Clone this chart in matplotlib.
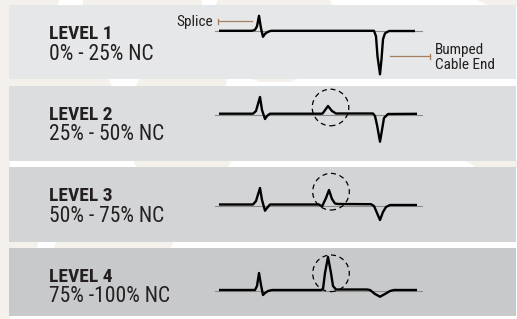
import matplotlib

matplotlib.use("Agg")
import matplotlib.pyplot as plt
from matplotlib import font_manager
from matplotlib.patches import Circle, Polygon


def pick_narrow():
    # look for a condensed / narrow sans face among the installed fonts
    found = []
    for f in font_manager.fontManager.ttflist:
        narrow = str(f.stretch) in ("condensed", "semi-condensed", "extra-condensed") or \
            any(k in f.name for k in ("Narrow", "Condensed"))
        if narrow and "Mono" not in f.name and "Serif" not in f.name:
            found.append(f)
    for pref in ("Liberation", "Roboto", "Open Sans", "Noto Sans", "DejaVu Sans"):
        for f in found:
            if f.name.startswith(pref):
                return f.name, f.stretch
    return None, None


NARROW, STRETCH = pick_narrow()
if NARROW:
    FAMILY = [NARROW, "DejaVu Sans"]
    SCALE = 1.0
else:
    FAMILY = ["Roboto", "DejaVu Sans"]
    SCALE = 0.9
    STRETCH = "normal"
plt.rcParams["font.family"] = FAMILY

W, H = 517, 319

# ---- data: TDR-like traces, distance (px from trace start) vs amplitude (px above baseline)
levels = ["LEVEL 1", "LEVEL 2", "LEVEL 3", "LEVEL 4"]
ranges = ["0% - 25% NC", "25% - 50% NC", "50% - 75% NC", "75% -100% NC"]

dist_1 = [0, 33, 36, 38, 40, 42, 44, 46, 49, 52, 155, 157, 158.5, 161, 162.5, 164, 166, 170, 196]
amp_1 = [0.5, 0.5, 1.5, 5, 15.5, 3, -5.5, -2.5, -0.5, 0.5, 0.5, -5, -25, -43, -28, -8, -2, 0.3, 0.3]

dist_2 = [0, 34, 37, 41, 43, 46, 48, 51, 103, 104, 109, 113, 117, 154, 156, 158, 161, 163, 165, 169, 198]
amp_2 = [1.3, 1.3, 4, 18, 5, -4, -1, 1.3, 1.3, 2, 9, 4, 1.5, 1.5, -1, -10, -26.7, -15, -3, 1, 1.2]

dist_3 = [0, 34, 37, 41, 43, 46, 48, 51, 100, 103, 107, 110, 113, 116, 119, 152, 155, 158, 161, 164, 167, 171, 198]
amp_3 = [1.5, 1.5, 5, 18, 6, -4.7, -2, 1.5, 1.5, -0.5, 8, 16, 7, 2.5, 2, 1.8, 0, -7, -14, -6, -1, 1, 1]

dist_4 = [0, 36, 38, 40, 42, 44, 46, 49, 53, 102, 104, 106, 109, 112, 114, 117, 148, 151, 156, 161, 166, 171, 175, 198]
amp_4 = [1, 1, 5, 18, 6, -4, -2, 0, 1, 1, 2, 18, 34, 18, 5, 1.5, 1.5, 1, -3, -5.7, -3, 0, 1, 1]

trace_dist = [dist_1, dist_2, dist_3, dist_4]
trace_amp = [amp_1, amp_2, amp_3, amp_4]

# dashed ring around the growing reflection (levels 2-4)
ring_dist = [None, 111.5, 112, 112]
ring_amp = [None, 7.5, 14.3, 17.7]
ring_r = 18.3

# ---- layout (pixels)
panel_top = [5, 86, 167, 248]
panel_bot = [79.3, 160.7, 241.7, 316]
panel_x0, panel_x1 = 9, 515.7
base_y = [31.3, 115, 206, 291]
trace_x0 = 219
panel_colors = ["#e6e7e8", "#dcdddf", "#d3d4d6", "#c8c9cb"]
TXT = "#231f20"
LEADER = "#a5805f"
WM = "#f4f0ec"

fig = plt.figure(figsize=(W / 100, H / 100), dpi=100)
fig.patch.set_facecolor("white")

# faint background watermark pieces
bg = fig.add_axes([0, 0, 1, 1])
bg.set_xlim(0, W)
bg.set_ylim(H, 0)
bg.axis("off")
wm_shapes = [
    [(0, 0), (60, 0), (57, 6), (0, 6)],
    [(83, 0), (202, 0), (202, 6), (83, 6)],
    [(218, 0), (330, 0), (333, 6), (215, 6)],
    [(477, 0), (517, 0), (517, 6), (490, 6)],
    [(0, 0), (10, 0), (10, 319), (0, 319)],
    [(0, 78), (108, 78), (112, 87), (0, 87)],
    [(140, 78), (228, 78), (225, 87), (135, 87)],
    [(250, 78), (300, 78), (290, 82), (260, 82)],
    [(133, 160), (232, 160), (228, 168), (137, 168)],
    [(463, 160), (517, 160), (517, 168), (478, 168)],
    [(0, 241), (39, 241), (36, 249), (0, 249)],
    [(56, 241), (174, 241), (170, 249), (54, 249)],
]
for pts in wm_shapes:
    bg.add_patch(Polygon(pts, closed=True, fc=WM, ec="none"))

big = 14 * SCALE
mid = 15.5 * SCALE
small = 11 * SCALE

for i in range(4):
    top, bot = panel_top[i], panel_bot[i]
    ax = fig.add_axes([panel_x0 / W, 1 - bot / H, (panel_x1 - panel_x0) / W, (bot - top) / H])
    ax.set_facecolor(panel_colors[i])
    ax.set_xlim(panel_x0 - trace_x0, panel_x1 - trace_x0)
    ax.set_ylim(base_y[i] - bot, base_y[i] - top)
    for s in ax.spines.values():
        s.set_visible(False)
    ax.set_xticks([])
    ax.set_yticks([])

    # reference baseline and trace
    ax.plot([-4, 203], [0, 0], color="#8c8c8c", lw=0.8, zorder=2)
    ax.plot(trace_dist[i], trace_amp[i], color="black", lw=1.7,
            solid_joinstyle="round", solid_capstyle="butt", zorder=3)

    if ring_dist[i] is not None:
        ax.add_patch(Circle((ring_dist[i], ring_amp[i]), ring_r, fill=False,
                            ec="black", lw=0.9, ls=(0, (4, 3)), zorder=4))

    # labels
    tx = 49 - trace_x0
    ax.text(tx, base_y[i] - (top + 33.7), levels[i], fontsize=big, fontweight="bold",
            fontstretch=STRETCH, color=TXT, ha="left", va="baseline")
    ax.text(tx, base_y[i] - (top + 54.5), ranges[i], fontsize=mid, fontstretch=STRETCH,
            color=TXT, ha="left", va="baseline")

    if i == 0:
        # Splice callout
        ax.plot([-1, 33], [10, 10], color=LEADER, lw=0.9)
        ax.plot([-1, -1], [7.5, 12.5], color=LEADER, lw=0.9)
        ax.text(-6, 5, "Splice", fontsize=small, fontstretch=STRETCH, color=TXT,
                ha="right", va="baseline")
        # Bumped cable end callout
        ax.plot([171, 211], [-25, -25], color=LEADER, lw=0.9)
        ax.plot([211, 211], [-27.5, -22.5], color=LEADER, lw=0.9)
        ax.text(216, -22.3, "Bumped", fontsize=small, fontstretch=STRETCH, color=TXT,
                ha="left", va="baseline")
        ax.text(216, -37.5, "Cable End", fontsize=small, fontstretch=STRETCH, color=TXT,
                ha="left", va="baseline")

fig.savefig("out.png", dpi=100, facecolor="white")
